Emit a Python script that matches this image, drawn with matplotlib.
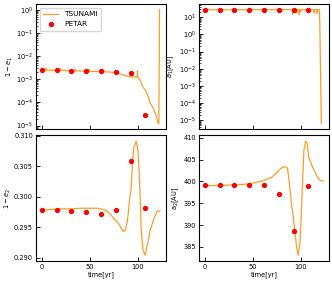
import matplotlib
matplotlib.use('Agg')
import matplotlib.pyplot as plt
from matplotlib.ticker import LogLocator

# PETAR snapshots
t_petar = [0, 15.4, 30.8, 46.2, 61.6, 77.0, 92.4, 107.8]
e1_petar = [2.5e-3, 2.45e-3, 2.35e-3, 2.3e-3, 2.15e-3, 2.1e-3, 1.9e-3, 2.8e-5]
a1_petar = [27, 27, 27, 27, 27, 27, 27, 27]
e2_petar = [0.2978, 0.2978, 0.2977, 0.2975, 0.2971, 0.2978, 0.3059, 0.2981]
a2_petar = [399.1, 399.1, 399.2, 399.2, 399.1, 397.2, 388.7, 398.9]

# TSUNAMI curves
t_e1 = [0, 4, 4.4, 4.8, 15, 19, 19.4, 19.8, 30, 34, 34.4, 34.8, 45, 49, 49.4, 49.8,
        60, 64, 64.4, 64.8, 70, 78, 85, 90, 95, 99.3, 99.6, 100, 102.4, 104, 105.8,
        107.5, 109.4, 111, 112.8, 115, 116.5, 118, 119.5, 120.8, 121.8, 122.5]
e1_ts = [2.45e-3, 2.45e-3, 2.9e-3, 2.45e-3, 2.4e-3, 2.4e-3, 2.9e-3, 2.4e-3,
         2.35e-3, 2.3e-3, 2.8e-3, 2.3e-3, 2.25e-3, 2.2e-3, 2.7e-3, 2.2e-3,
         2.15e-3, 2.1e-3, 2.6e-3, 2.1e-3, 2.05e-3, 1.9e-3, 1.5e-3, 1.3e-3, 1.25e-3,
         1.25e-3, 2.3e-3, 1.2e-3, 9e-4, 6e-4, 4.2e-4, 3.5e-4, 2.5e-4, 1.6e-4, 9.3e-5,
         6.5e-5, 5e-5, 3.5e-5, 2.2e-5, 1.4e-5, 1.2e-5, 1.0]

t_a1 = [0, 10, 20, 30, 40, 50, 60, 70, 80, 91.2, 91.4, 91.6, 95.6, 95.8, 96,
        98.1, 98.3, 98.5, 99.5, 99.7, 99.9, 113.2, 113.4, 113.6, 116.3, 116.5,
        116.7, 119.2, 119.6, 121.2]
a1_ts = [28, 28, 28, 28, 28, 28, 28, 28, 28, 28, 15, 28, 28, 18, 28,
         28, 14, 28, 28, 20, 28, 28, 18, 28, 28, 17,
         28, 28, 3, 6e-6]

t_e2 = [0, 10, 20, 30, 40, 50, 58, 64, 68, 71, 76, 80, 83, 85, 87, 89, 90, 91.3,
        93, 94.4, 95.8, 98.2, 100, 101.4, 102.4, 103.5, 105.2, 107.6, 109.4,
        112.8, 116.3, 119.8, 123]
e2_ts = [0.2978, 0.2979, 0.2980, 0.2980, 0.2981, 0.2981, 0.2981, 0.2979, 0.2976,
         0.2972, 0.2962, 0.2956, 0.2947, 0.2943, 0.2945, 0.2960, 0.2973, 0.2995,
         0.3014, 0.3058, 0.3080, 0.3091, 0.3077, 0.3039, 0.2995, 0.2945, 0.2913,
         0.2904, 0.2918, 0.2945, 0.2962, 0.2976, 0.2977]

t_a2 = [0, 20, 40, 50, 60, 70, 77, 80, 84, 86, 88, 90, 92, 93.5, 95, 97, 99, 101,
        103, 105, 106.5, 108, 112, 117, 120, 123]
a2_ts = [399.0, 399.1, 399.3, 399.6, 400.1, 401.0, 402.5, 403.1, 403.4, 403.0,
         399.5, 395.0, 391.9, 388.8, 385.8, 383.1, 385.8, 396.4, 407.1, 409.2,
         408.6, 405.6, 403.3, 401.0, 400.2, 400.1]

e2_ticks = [0.290, 0.295, 0.300, 0.305, 0.310]
a2_ticks = [385, 390, 395, 400, 405, 410]
time_ticks = [0, 50, 100]

plt.rcParams['font.size'] = 4.8
plt.rcParams['xtick.direction'] = 'in'
plt.rcParams['ytick.direction'] = 'in'

line_c = '#ff9c26'
fig, axs = plt.subplots(2, 2, sharex=True, figsize=(3.32, 2.83), dpi=100)
fig.subplots_adjust(left=0.108, right=0.991, top=0.986, bottom=0.078,
                    wspace=0.254, hspace=0.048)

ax = axs[0, 0]
ax.plot(t_e1, e1_ts, color=line_c, lw=0.9, label='TSUNAMI')
ax.plot(t_petar, e1_petar, 'o', color='red', ms=2.8, label='PETAR')
ax.set_yscale('log')
ax.set_ylabel(r'$1-e_1$')
ax.legend(loc='upper left', fontsize=5.3, borderpad=0.5)

ax = axs[0, 1]
ax.plot(t_a1, a1_ts, color=line_c, lw=0.9)
ax.plot(t_petar, a1_petar, 'o', color='red', ms=2.8)
ax.set_yscale('log')
ax.set_ylabel(r'$a_1$[AU]')

ax = axs[1, 0]
ax.plot(t_e2, e2_ts, color=line_c, lw=0.9)
ax.plot(t_petar, e2_petar, 'o', color='red', ms=2.8)
ax.set_ylabel(r'$1-e_2$')
ax.set_xlabel('time[yr]')
ax.set_yticks(e2_ticks)
ax.set_yticklabels(['%.3f' % v for v in e2_ticks])

ax = axs[1, 1]
ax.plot(t_a2, a2_ts, color=line_c, lw=0.9)
ax.plot(t_petar, a2_petar, 'o', color='red', ms=2.8)
ax.set_ylabel(r'a$_2$[AU]')
ax.set_xlabel('time[yr]')
ax.set_yticks(a2_ticks)

for a in (axs[0, 0], axs[0, 1]):
    a.yaxis.set_major_locator(LogLocator(base=10, numticks=20))

for a in axs.flat:
    a.tick_params(which='major', length=3, width=0.6, pad=2)
    a.tick_params(which='minor', length=1.5, width=0.5)
    a.yaxis.labelpad = 1
    a.xaxis.labelpad = 1
axs[0, 1].yaxis.labelpad = 2
axs[1, 1].yaxis.labelpad = 2
axs[1, 0].set_xticks(time_ticks)

fig.savefig('out.png', dpi=100)
